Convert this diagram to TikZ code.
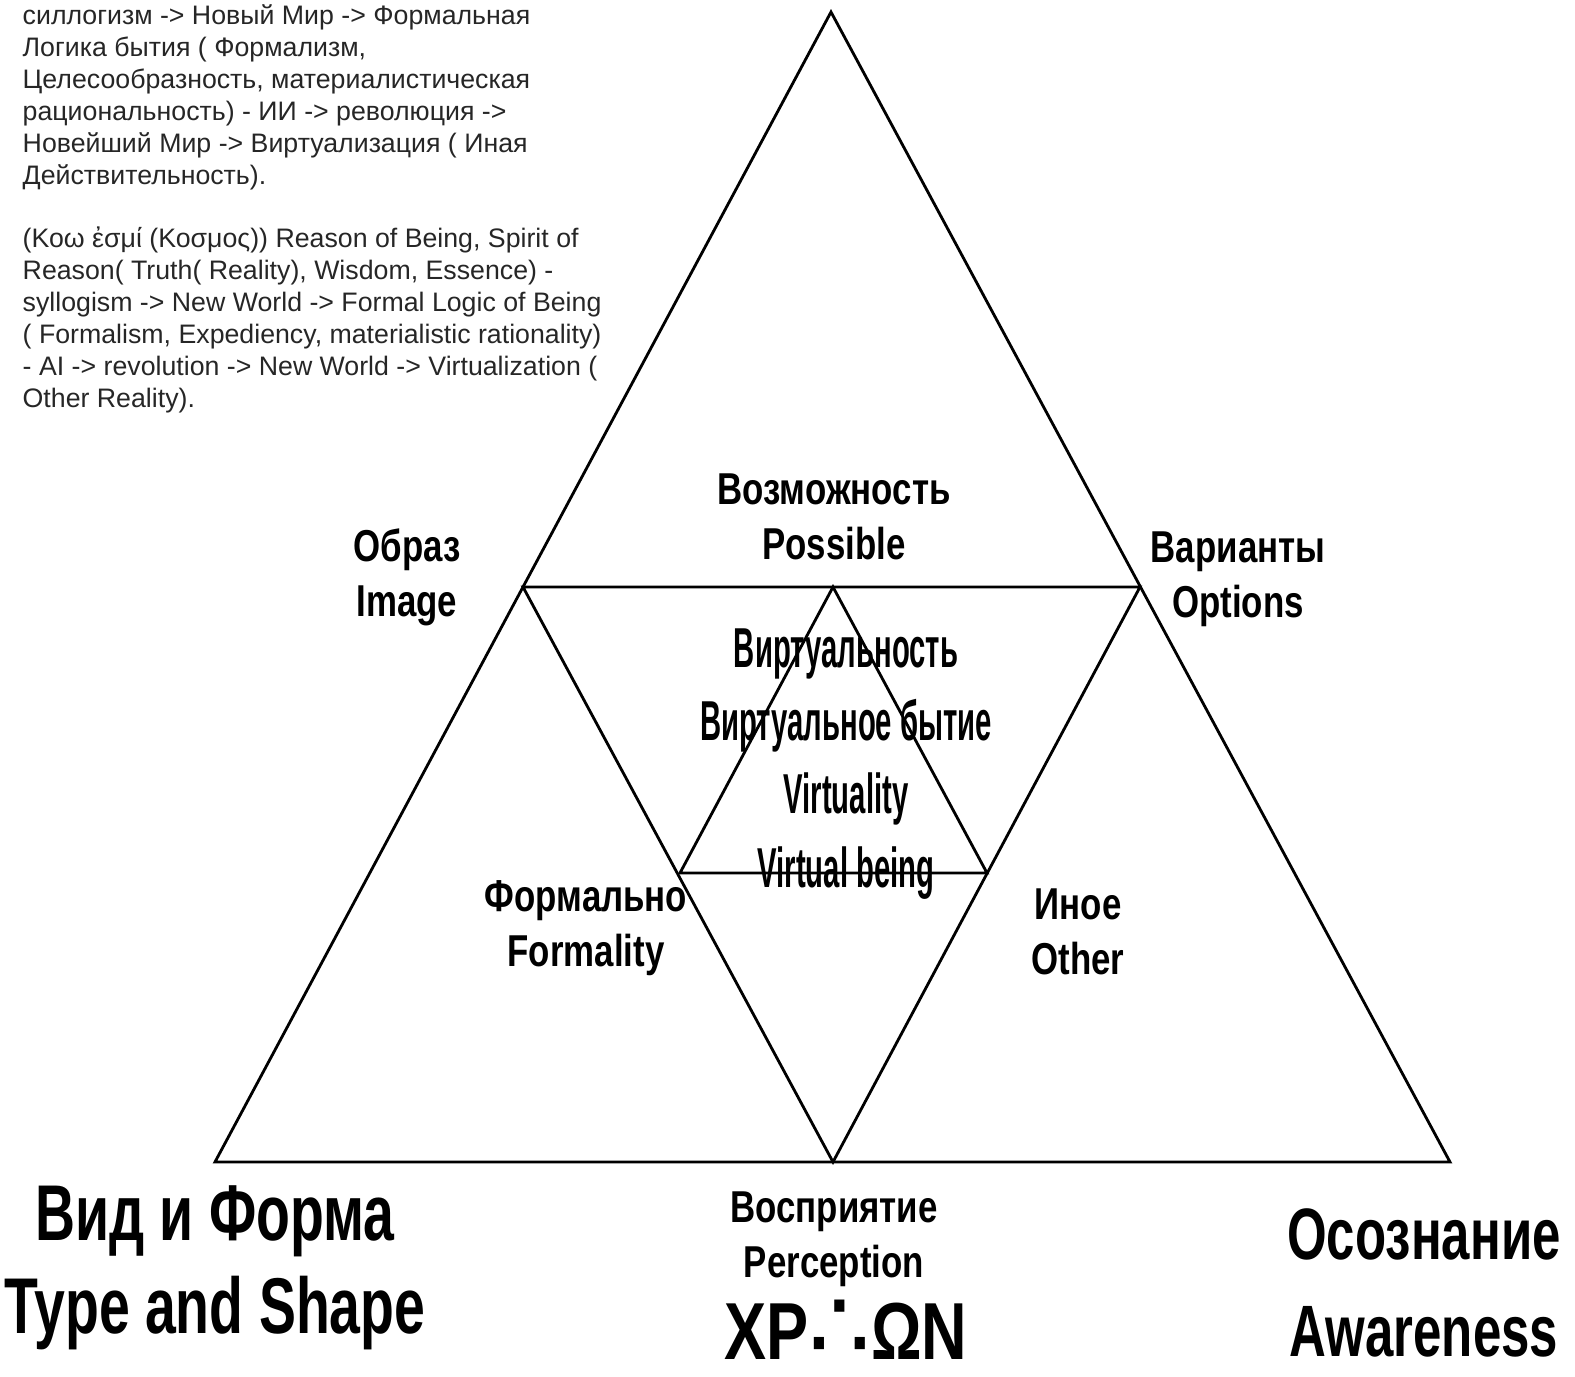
\documentclass[tikz,border=0pt]{standalone}
\usepackage{fontspec}
\setmainfont{Liberation Sans}
\newfontfamily\lblfont{Liberation Sans}[FakeStretch=0.78]
\newfontfamily\condfont{Liberation Sans}[FakeStretch=0.7]
\newfontfamily\virtfont{Liberation Sans}[FakeStretch=0.52]
\newfontfamily\symfont{DejaVu Sans}
\definecolor{textGray}{HTML}{262626}

\begin{document}
\begin{tikzpicture}[x=0.01cm, y=-0.01cm,
  edge/.style={line width=0.8pt, line join=miter},
  para/.style={anchor=north west, inner sep=0pt, align=left, text=textGray,
    font=\fontsize{7.6}{9.1}\selectfont},
  lbl/.style={align=center, inner sep=0pt,
    font=\lblfont\bfseries\fontsize{12.7}{15.6}\selectfont},
  virt/.style={align=center, inner sep=0pt,
    font=\virtfont\bfseries\fontsize{16}{20.8}\selectfont},
  corner/.style={align=center, inner sep=0pt,
    font=\condfont\bfseries\fontsize{22.5}{26.5}\selectfont}
]
\useasboundingbox (0,0) rectangle (1575,1377);

% outer triangle and the two inner ones
\coordinate (top) at (831,12);
\coordinate (bl) at (215,1162);
\coordinate (br) at (1450,1162);
\coordinate (ml) at (523,587);
\coordinate (mr) at (1140,587);
\coordinate (mb) at (833,1162);
\coordinate (mt) at (833,587);
\coordinate (il) at (680,873);
\coordinate (ir) at (987,873);
\draw[edge] (top) -- (br) -- (bl) -- cycle;
\draw[edge] (ml) -- (mr) -- (mb) -- cycle;
\draw[edge] (mt) -- (ir) -- (il) -- cycle;

% notes
\node[para] (ruText) at (22,4) {силлогизм -> Новый Мир -> Формальная\\
Логика бытия ( Формализм,\\
Целесообразность, материалистическая\\
рациональность) - ИИ -> революция ->\\
Новейший Мир -> Виртуализация ( Иная\\
Действительность).};
\node[para] (enText) at (22,226) {(Κοω ἐσμί (Κοσμος)) Reason of Being, Spirit of\\
Reason( Truth( Reality), Wisdom, Essence) -\\
syllogism -> New World -> Formal Logic of Being\\
( Formalism, Expediency, materialistic rationality)\\
- AI -> revolution -> New World -> Virtualization (\\
Other Reality).};

% labels
\node[lbl] (possible) at (834,517) {Возможность\\Possible};
\node[lbl] (image) at (407,577) {Образ\\Image};
\node[lbl] (options) at (1238,579) {Варианты\\Options};
\node[virt] (virtual) at (846,764) {Виртуальность\\Виртуальное бытие\\Virtuality\\Virtual being};
\node[lbl] (formality) at (586,928) {Формально\\Formality};
\node[lbl] (other) at (1078,932) {Иное\\Other};
\node[lbl] (perception) at (834,1239) {Восприятие\\Perception};
\node[lbl, anchor=base, font=\lblfont\bfseries\fontsize{23}{28}\selectfont] (xpon) at (846,1360)
  {XP{\symfont\mdseries\fontsize{28}{28}\selectfont ∴}ΩN};
\node[corner] (shape) at (215,1268) {Вид и Форма\\Type and Shape};
\node[corner, font=\condfont\bfseries\fontsize{20.7}{27.5}\selectfont] (awareness) at (1424,1283) {Осознание\\Awareness};
\end{tikzpicture}
\end{document}
